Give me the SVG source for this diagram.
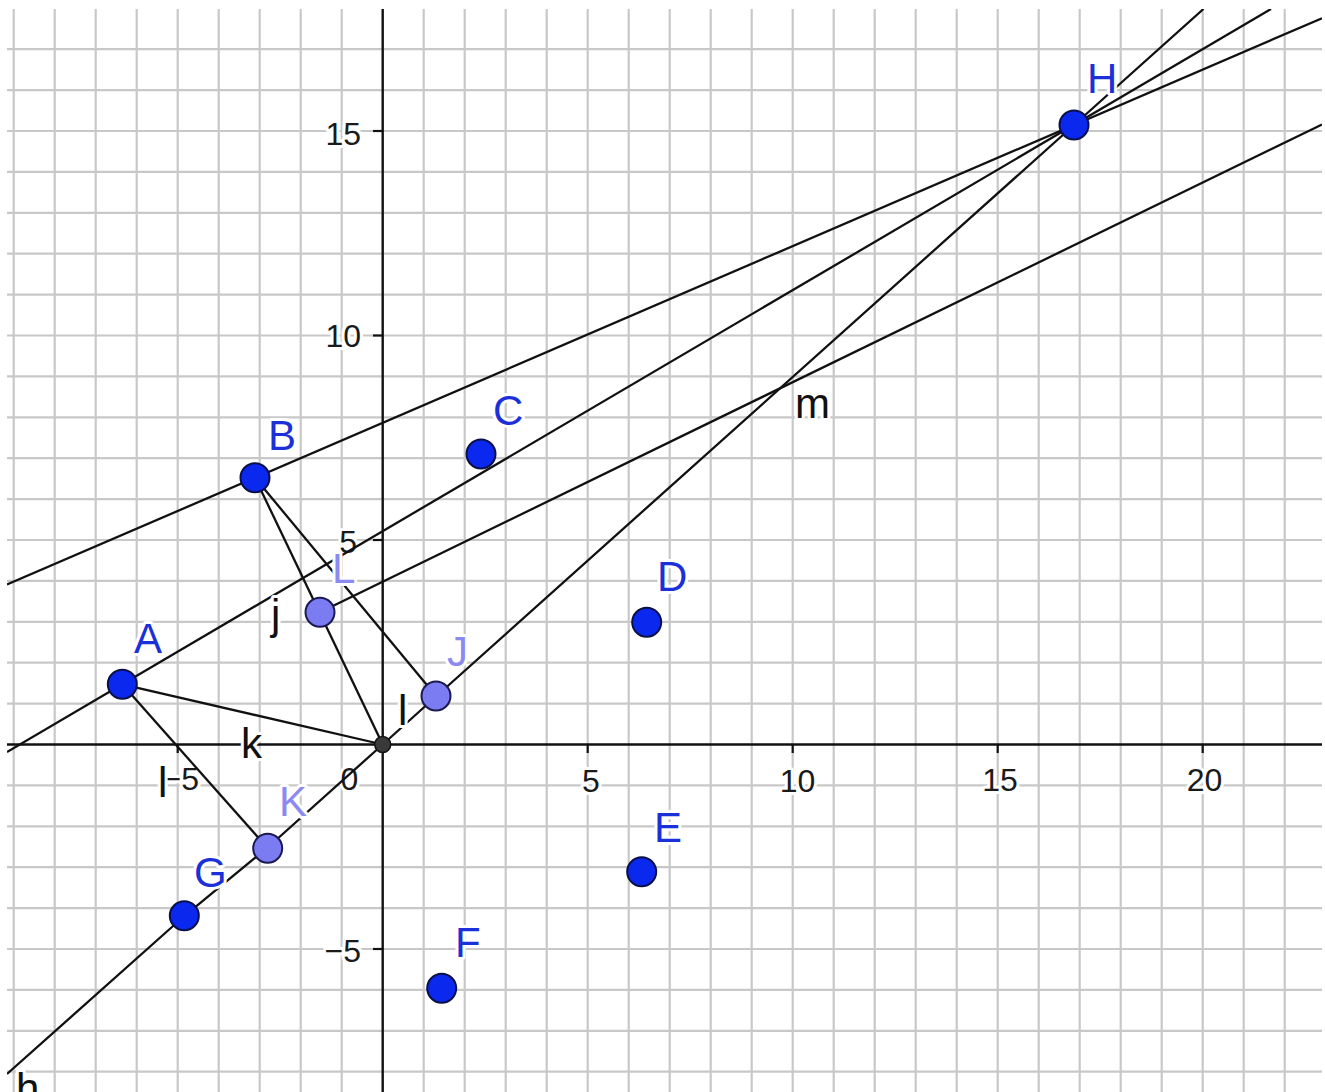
<svg xmlns="http://www.w3.org/2000/svg" width="1325" height="1092" viewBox="0 0 1325 1092">
<style>
.grid line{stroke:#c8c8c8;stroke-width:2.2}
.axis{stroke:#111;stroke-width:2.4;fill:none}
.tick{stroke:#111;stroke-width:2.2}
.num{font-family:"Liberation Sans",Arial,sans-serif;font-size:32px;fill:#1a1a1a;stroke:#fff;stroke-width:6;stroke-linejoin:round;paint-order:stroke}
.ln{stroke:#111;stroke-width:2.3;fill:none}
.pt{fill:#0b28ef;stroke:#0a1048;stroke-width:2}
.lpt{fill:#7c7cf2;stroke:#1a1a50;stroke-width:2}
.opt{fill:#3a3a3a;stroke:#111;stroke-width:1.5}
.lab{font-family:"Liberation Sans",Arial,sans-serif;font-size:42px;stroke:#fff;stroke-width:6;stroke-linejoin:round;paint-order:stroke}
.blue{fill:#1b30d8}
.light{fill:#8a8af2}
.blk{fill:#111}
</style>
<defs>
<clipPath id="area"><rect x="7" y="9" width="1315" height="1083"/></clipPath>
</defs>
<rect width="1325" height="1092" fill="#fff"/>
<g clip-path="url(#area)">
<g class="grid">
<line x1="13.7" y1="9" x2="13.7" y2="1092"/>
<line x1="54.7" y1="9" x2="54.7" y2="1092"/>
<line x1="95.7" y1="9" x2="95.7" y2="1092"/>
<line x1="136.7" y1="9" x2="136.7" y2="1092"/>
<line x1="177.7" y1="9" x2="177.7" y2="1092"/>
<line x1="218.7" y1="9" x2="218.7" y2="1092"/>
<line x1="259.7" y1="9" x2="259.7" y2="1092"/>
<line x1="300.7" y1="9" x2="300.7" y2="1092"/>
<line x1="341.7" y1="9" x2="341.7" y2="1092"/>
<line x1="423.7" y1="9" x2="423.7" y2="1092"/>
<line x1="464.7" y1="9" x2="464.7" y2="1092"/>
<line x1="505.7" y1="9" x2="505.7" y2="1092"/>
<line x1="546.7" y1="9" x2="546.7" y2="1092"/>
<line x1="587.7" y1="9" x2="587.7" y2="1092"/>
<line x1="628.7" y1="9" x2="628.7" y2="1092"/>
<line x1="669.7" y1="9" x2="669.7" y2="1092"/>
<line x1="710.7" y1="9" x2="710.7" y2="1092"/>
<line x1="751.7" y1="9" x2="751.7" y2="1092"/>
<line x1="792.7" y1="9" x2="792.7" y2="1092"/>
<line x1="833.7" y1="9" x2="833.7" y2="1092"/>
<line x1="874.7" y1="9" x2="874.7" y2="1092"/>
<line x1="915.7" y1="9" x2="915.7" y2="1092"/>
<line x1="956.7" y1="9" x2="956.7" y2="1092"/>
<line x1="997.7" y1="9" x2="997.7" y2="1092"/>
<line x1="1038.7" y1="9" x2="1038.7" y2="1092"/>
<line x1="1079.7" y1="9" x2="1079.7" y2="1092"/>
<line x1="1120.7" y1="9" x2="1120.7" y2="1092"/>
<line x1="1161.7" y1="9" x2="1161.7" y2="1092"/>
<line x1="1202.7" y1="9" x2="1202.7" y2="1092"/>
<line x1="1243.7" y1="9" x2="1243.7" y2="1092"/>
<line x1="1284.7" y1="9" x2="1284.7" y2="1092"/>
<line x1="7" y1="49.2" x2="1322" y2="49.2"/>
<line x1="7" y1="90.1" x2="1322" y2="90.1"/>
<line x1="7" y1="131" x2="1322" y2="131"/>
<line x1="7" y1="171.9" x2="1322" y2="171.9"/>
<line x1="7" y1="212.8" x2="1322" y2="212.8"/>
<line x1="7" y1="253.7" x2="1322" y2="253.7"/>
<line x1="7" y1="294.6" x2="1322" y2="294.6"/>
<line x1="7" y1="335.5" x2="1322" y2="335.5"/>
<line x1="7" y1="376.4" x2="1322" y2="376.4"/>
<line x1="7" y1="417.3" x2="1322" y2="417.3"/>
<line x1="7" y1="458.2" x2="1322" y2="458.2"/>
<line x1="7" y1="499.1" x2="1322" y2="499.1"/>
<line x1="7" y1="540" x2="1322" y2="540"/>
<line x1="7" y1="580.9" x2="1322" y2="580.9"/>
<line x1="7" y1="621.8" x2="1322" y2="621.8"/>
<line x1="7" y1="662.7" x2="1322" y2="662.7"/>
<line x1="7" y1="703.6" x2="1322" y2="703.6"/>
<line x1="7" y1="785.4" x2="1322" y2="785.4"/>
<line x1="7" y1="826.3" x2="1322" y2="826.3"/>
<line x1="7" y1="867.2" x2="1322" y2="867.2"/>
<line x1="7" y1="908.1" x2="1322" y2="908.1"/>
<line x1="7" y1="949" x2="1322" y2="949"/>
<line x1="7" y1="989.9" x2="1322" y2="989.9"/>
<line x1="7" y1="1030.8" x2="1322" y2="1030.8"/>
<line x1="7" y1="1071.7" x2="1322" y2="1071.7"/>
</g>
<g id="axis-numbers">
<text class="num" x="361" y="145" text-anchor="end">15</text>
<text class="num" x="361" y="347" text-anchor="end">10</text>
<text class="num" x="357" y="553" text-anchor="end">5</text>
<text class="num" x="361" y="962" text-anchor="end">−5</text>
<text class="num" x="199" y="790" text-anchor="end">−5</text>
<text class="num" x="349.5" y="790" text-anchor="middle">0</text>
<text class="num" x="591" y="792" text-anchor="middle">5</text>
<text class="num" x="797.5" y="792" text-anchor="middle">10</text>
<text class="num" x="1000" y="791" text-anchor="middle">15</text>
<text class="num" x="1204.5" y="791" text-anchor="middle">20</text>
</g>
<g id="axes">
<line class="axis" x1="7" y1="744.5" x2="1322" y2="744.5"/>
<line class="axis" x1="382.7" y1="9" x2="382.7" y2="1092"/>
<line class="tick" x1="587.7" y1="744.5" x2="587.7" y2="753"/>
<line class="tick" x1="792.7" y1="744.5" x2="792.7" y2="753"/>
<line class="tick" x1="997.7" y1="744.5" x2="997.7" y2="753"/>
<line class="tick" x1="1202.7" y1="744.5" x2="1202.7" y2="753"/>
<line class="tick" x1="177.7" y1="744.5" x2="177.7" y2="753"/>
<line class="tick" x1="373" y1="131" x2="382.7" y2="131"/>
<line class="tick" x1="373" y1="335.5" x2="382.7" y2="335.5"/>
<line class="tick" x1="373" y1="540" x2="382.7" y2="540"/>
<line class="tick" x1="373" y1="949" x2="382.7" y2="949"/>
</g>
<g id="connectors">
<line id="line-BH" class="ln" x1="7" y1="584.5" x2="1322" y2="18.2"/>
<line id="line-AH" class="ln" x1="7" y1="752" x2="1271" y2="9"/>
<polyline id="line-h" class="ln" points="7,1074 184.3,916 267.7,847.5 382.7,744.5 436,696.5 1074,125 1203.5,9"/>
<line id="ray-L" class="ln" x1="320" y1="612.3" x2="1322" y2="124.5"/>
<line id="seg-BJ" class="ln" x1="255" y1="477.7" x2="436" y2="696"/>
<line id="seg-BO" class="ln" x1="255" y1="477.7" x2="382.7" y2="744.5"/>
<line id="seg-AO" class="ln" x1="122.3" y1="684.3" x2="382.7" y2="744.5"/>
<line id="seg-AK" class="ln" x1="122.3" y1="684.3" x2="267.7" y2="848.3"/>
</g>
<g id="line-labels">
<text class="lab blk" x="271" y="629">j</text>
<text class="lab blk" x="241" y="758">k</text>
<text class="lab blk" x="398" y="725">l</text>
<text class="lab blk" x="158" y="797">l</text>
<text class="lab blk" x="795" y="418">m</text>
<text class="lab blk" x="16" y="1103">h</text>
</g>
<g id="node-O"><circle class="opt" cx="382.7" cy="744.5" r="8"/></g>
<g id="node-A"><circle class="pt" cx="122.3" cy="684.3" r="14.5"/><text class="lab blue" x="134" y="653">A</text></g>
<g id="node-B"><circle class="pt" cx="255" cy="477.7" r="14.5"/><text class="lab blue" x="268" y="450">B</text></g>
<g id="node-C"><circle class="pt" cx="481" cy="454" r="14.5"/><text class="lab blue" x="493" y="425">C</text></g>
<g id="node-D"><circle class="pt" cx="646.7" cy="622.3" r="14.5"/><text class="lab blue" x="657" y="591">D</text></g>
<g id="node-E"><circle class="pt" cx="641.7" cy="871.7" r="14.5"/><text class="lab blue" x="654" y="842">E</text></g>
<g id="node-F"><circle class="pt" cx="441.7" cy="988.3" r="14.5"/><text class="lab blue" x="455" y="957">F</text></g>
<g id="node-G"><circle class="pt" cx="184.3" cy="915.7" r="14.5"/><text class="lab blue" x="194" y="887">G</text></g>
<g id="node-H"><circle class="pt" cx="1074" cy="125" r="14.5"/><text class="lab blue" x="1087" y="93">H</text></g>
<g id="node-J"><circle class="lpt" cx="436" cy="696" r="14.5"/><text class="lab light" x="447" y="666">J</text></g>
<g id="node-K"><circle class="lpt" cx="267.7" cy="848.3" r="14.5"/><text class="lab light" x="279" y="816">K</text></g>
<g id="node-L"><circle class="lpt" cx="320" cy="612.3" r="14.5"/><text class="lab light" x="332" y="583">L</text></g>
</g>
</svg>
